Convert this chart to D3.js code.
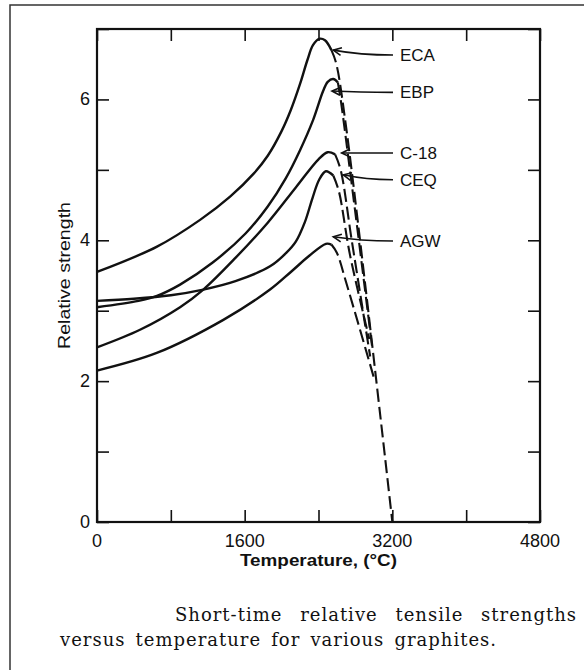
<!DOCTYPE html>
<html>
<head>
<meta charset="utf-8">
<script src="https://cdn.jsdelivr.net/npm/d3@7"></script>
<style>
  body { margin: 0; background: #fff; }
  svg { display: block; }
</style>
</head>
<body>
<div id="chart"></div>
<script>
// values: [temperature °C, relative strength]
const seriesNames = ["ECA", "EBP", "C-18", "CEQ", "AGW"];

const ecaSolid = [[0,3.55],[650,3.91],[1117,4.29],[1442,4.62],[1700,4.95],[1850,5.2],[2000,5.55],[2100,5.85],[2200,6.22],[2280,6.56],[2340,6.77],[2407,6.86],[2470,6.84],[2540,6.7]];
const ebpSolid = [[0,3.05],[450,3.14],[650,3.21],[900,3.37],[1250,3.68],[1612,4.10],[1850,4.48],[2045,4.88],[2200,5.28],[2342,5.71],[2450,6.12],[2500,6.25],[2560,6.29],[2610,6.24]];
const c18Solid = [[0,2.48],[466,2.73],[900,3.05],[1152,3.30],[1500,3.75],[1850,4.25],[2154,4.75],[2400,5.15],[2500,5.25],[2580,5.22]];
const ceqSolid = [[0,3.14],[400,3.17],[800,3.22],[1152,3.30],[1500,3.42],[1875,3.63],[2050,3.82],[2154,3.98],[2250,4.25],[2335,4.6],[2407,4.86],[2480,4.98],[2560,4.92]];
const agwSolid = [[0,2.15],[647,2.40],[1369,2.87],[1875,3.30],[2100,3.55],[2300,3.78],[2480,3.95],[2540,3.94]];

// extrapolated (dashed) parts
const ecaDashed = [[2540,6.7],[2590,6.52],[2700,5.6],[3200,0]];
const ebpDashed = [[2610,6.24],[2640,6.0],[2750,4.9],[2980,2.5]];
const c18Dashed = [[2580,5.22],[2640,5.0],[2760,4.0],[2960,2.35]];
const ceqDashed = [[2560,4.92],[2620,4.7],[2740,3.8],[2950,2.6]];
const agwDashed = [[2540,3.94],[2600,3.82],[2700,3.4],[3000,2.05]];

// label annotations: arrow tip on the curve and label height
const labelTipT = [2560, 2546, 2651, 2669, 2560];
const labelTipV = [6.70, 6.12, 5.24, 4.93, 4.05];
const labelV    = [6.63, 6.10, 5.24, 4.86, 3.99];

const xTicks = [0, 800, 1600, 2400, 3200, 4000, 4800];
const xTickLabels = [0, 1600, 3200, 4800];
const yTicks = [0, 1, 2, 3, 4, 5, 6, 7];
const yTickLabels = [0, 2, 4, 6];

const captionLines = ["Short-time relative tensile strengths", "versus temperature for various graphites."];

const solids = [ecaSolid, ebpSolid, c18Solid, ceqSolid, agwSolid];
const dashes = [ecaDashed, ebpDashed, c18Dashed, ceqDashed, agwDashed];

const W = 584, H = 670;
const margin = {top: 29, right: 44, bottom: 148, left: 97};

const svg = d3.select("#chart").append("svg")
    .attr("width", W)
    .attr("height", H);

// outer page border (only top/left visible in the scan)
svg.append("rect")
    .attr("x", 10).attr("y", 5)
    .attr("width", W + 20).attr("height", H + 20)
    .attr("fill", "none")
    .attr("stroke", "#333")
    .attr("stroke-width", 1.5);

const x = d3.scaleLinear().domain([0, 4800]).range([margin.left, W - margin.right]);
const y = d3.scaleLinear().domain([0, 7]).range([H - margin.bottom, margin.top]);

const g = svg.append("g");

// frame ticks, all pointing inward
const tickLen = 12;
g.append("g").call(d3.axisBottom(x).tickValues(xTicks).tickSize(-tickLen).tickFormat(""))
    .attr("transform", "translate(0," + y(0) + ")");
g.append("g").call(d3.axisTop(x).tickValues(xTicks).tickSize(-tickLen).tickFormat(""))
    .attr("transform", "translate(0," + y(7) + ")");
g.append("g").call(d3.axisLeft(y).tickValues(yTicks).tickSize(-tickLen).tickFormat(""))
    .attr("transform", "translate(" + x(0) + ",0)");
g.append("g").call(d3.axisRight(y).tickValues(yTicks).tickSize(-tickLen).tickFormat(""))
    .attr("transform", "translate(" + x(4800) + ",0)");
g.selectAll(".domain").remove();
g.selectAll(".tick line").attr("stroke", "#111").attr("stroke-width", 1.6);

g.append("rect")
    .attr("x", x(0)).attr("y", y(7))
    .attr("width", x(4800) - x(0)).attr("height", y(0) - y(7))
    .attr("fill", "none")
    .attr("stroke", "#111")
    .attr("stroke-width", 2.2);

// tick labels
g.selectAll(".xlab").data(xTickLabels).join("text")
    .attr("class", "xlab")
    .attr("x", d => x(d))
    .attr("y", y(0) + 25)
    .attr("text-anchor", "middle")
    .style("font-family", "Liberation Sans, Arial, sans-serif")
    .style("font-size", "18px")
    .attr("fill", "#111")
    .text(d => d);

g.selectAll(".ylab").data(yTickLabels).join("text")
    .attr("class", "ylab")
    .attr("x", x(0) - 7)
    .attr("y", d => y(d) + 6)
    .attr("text-anchor", "end")
    .style("font-family", "Liberation Sans, Arial, sans-serif")
    .style("font-size", "18px")
    .attr("fill", "#111")
    .text(d => d);

// axis titles
g.append("text")
    .attr("x", (x(0) + x(4800)) / 2)
    .attr("y", y(0) + 44)
    .attr("text-anchor", "middle")
    .attr("textLength", 157)
    .attr("lengthAdjust", "spacingAndGlyphs")
    .style("font-family", "Liberation Sans, Arial, sans-serif")
    .style("font-size", "17px")
    .style("font-weight", "bold")
    .attr("fill", "#111")
    .text("Temperature, (°C)");

g.append("text")
    .attr("transform", "translate(70," + y(3.5) + ") rotate(-90)")
    .attr("text-anchor", "middle")
    .attr("textLength", 147)
    .attr("lengthAdjust", "spacingAndGlyphs")
    .style("font-family", "Liberation Sans, Arial, sans-serif")
    .style("font-size", "17px")
    .attr("fill", "#111")
    .text("Relative strength");

// curves
const line = d3.line()
    .x(d => x(d[0]))
    .y(d => y(d[1]))
    .curve(d3.curveCatmullRom.alpha(0.5));

g.selectAll(".solid").data(solids).join("path")
    .attr("class", "solid")
    .attr("d", line)
    .attr("fill", "none")
    .attr("stroke", "#111")
    .attr("stroke-width", 2.4);

g.selectAll(".dashed").data(dashes).join("path")
    .attr("class", "dashed")
    .attr("d", line)
    .attr("fill", "none")
    .attr("stroke", "#111")
    .attr("stroke-width", 2.1)
    .attr("stroke-dasharray", "13,5");

// labels with arrows
const lineStartX = 393, textX = 400;
seriesNames.forEach(function(name, i) {
    const tx = x(labelTipT[i]), ty = y(labelTipV[i]);
    const sy = y(labelV[i]);
    const cx = tx + (lineStartX - tx) * 0.45, cy = sy;
    g.append("path")
        .attr("d", "M" + lineStartX + "," + sy + " Q" + cx + "," + cy + " " + tx + "," + ty)
        .attr("fill", "none")
        .attr("stroke", "#111")
        .attr("stroke-width", 1.6);
    // arrowhead
    const ang = Math.atan2(ty - cy, tx - cx);
    const hl = 9, spread = 0.45;
    const p1 = [tx - hl * Math.cos(ang - spread), ty - hl * Math.sin(ang - spread)];
    const p2 = [tx - hl * Math.cos(ang + spread), ty - hl * Math.sin(ang + spread)];
    g.append("path")
        .attr("d", "M" + p1 + " L" + tx + "," + ty + " L" + p2)
        .attr("fill", "none")
        .attr("stroke", "#111")
        .attr("stroke-width", 1.6);
    g.append("text")
        .attr("x", textX)
        .attr("y", sy + 6)
        .style("font-family", "Liberation Sans, Arial, sans-serif")
        .style("font-size", "17px")
        .attr("fill", "#111")
        .text(name);
});

// caption, justified by widening the word gaps
const capX = [175, 60], capY = [621, 646], capW = [402, 437];
const cap = svg.append("g")
    .style("font-family", "DejaVu Serif, serif")
    .style("font-size", "18px")
    .style("letter-spacing", "1px")
    .attr("fill", "#111");
captionLines.forEach(function(txt, i) {
    const t = cap.append("text")
        .attr("x", capX[i]).attr("y", capY[i])
        .text(txt);
    const len = t.node().getComputedTextLength();
    const gaps = txt.split(" ").length - 1;
    t.style("word-spacing", Math.max(0, (capW[i] - len) / gaps) + "px");
});
</script>
</body>
</html>
